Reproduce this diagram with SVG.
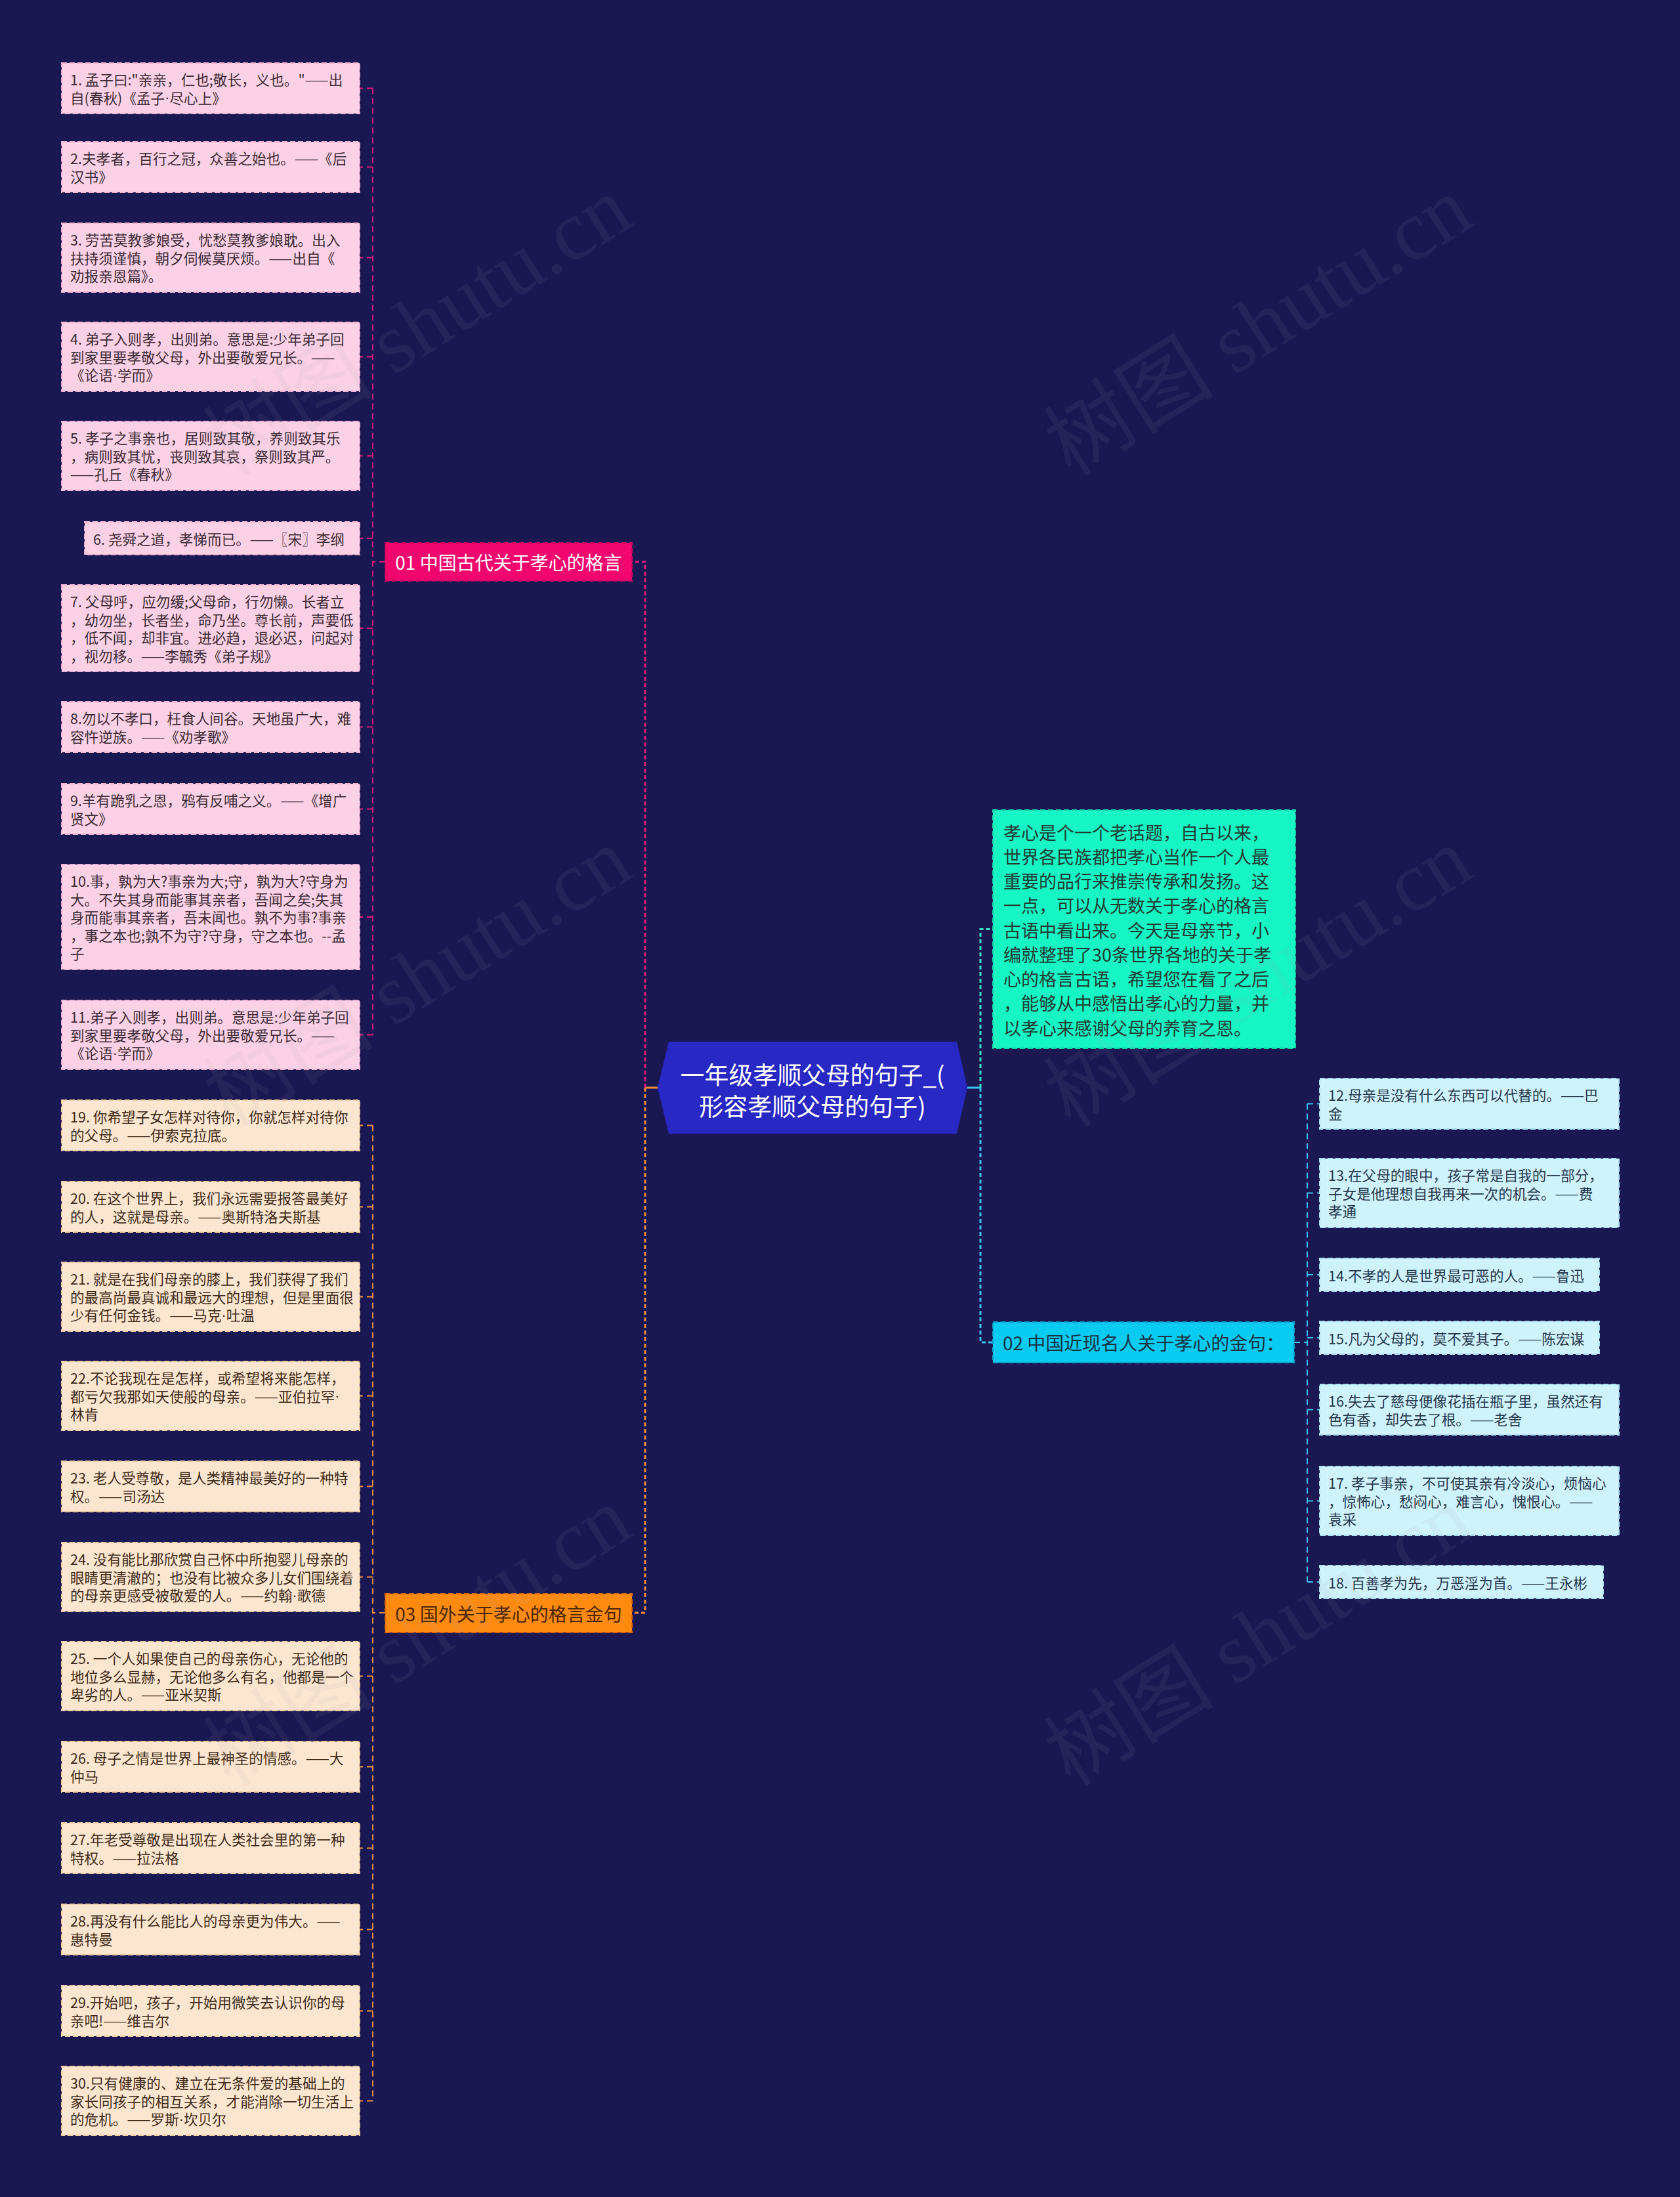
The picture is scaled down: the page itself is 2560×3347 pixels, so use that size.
<svg xmlns="http://www.w3.org/2000/svg" width="2560" height="3347" viewBox="0 0 2560 3347">
<style>
text{font-family:"Noto Sans CJK SC","Noto Sans",sans-serif;dominant-baseline:central}
.t{font-size:21.6px}
.d{font-family:"Liberation Sans",sans-serif}
.pk rect{fill:#fdd1e5;stroke:#f3b3d2;stroke-width:2;stroke-dasharray:8 4}
.pk text{fill:#3a2c36}
.og rect{fill:#fde6cf;stroke:#f2caa2;stroke-width:2;stroke-dasharray:8 4}
.og text{fill:#3e2c1a}
.cy rect{fill:#cff3fd;stroke:#a9dff0;stroke-width:2;stroke-dasharray:8 4}
.cy text{fill:#26384a}
.c1{stroke:#e2187e;fill:none}
.c3{stroke:#f0903a;fill:none}
.c2{stroke:#38c2ec;fill:none}
.c4{stroke:#38e3c8;fill:none}
.main{stroke-width:3;stroke-dasharray:6 4}
.sub{stroke-width:2;stroke-dasharray:9 6}
.wm{font-family:"Liberation Serif","Noto Sans CJK SC",serif;font-size:130px;fill:#9a9ab0;fill-opacity:0.09;dominant-baseline:auto}
</style>
<rect x="0" y="0" width="2560" height="3347" fill="#1a1852"/>

<g id="connectors">
  <line x1="1002" y1="1657" x2="983" y2="1657" stroke="#f0903a" stroke-width="3"/>
  <line x1="1474" y1="1657" x2="1494" y2="1657" stroke="#38c2ec" stroke-width="3"/>
  <path class="c1 main" d="M983 1657 V856 H963"/>
  <path class="c3 main" d="M983 1657 V2457 H963"/>
  <path class="c4 main" d="M1494 1657 V1415.5 H1513"/>
  <path class="c2 main" d="M1494 1657 V2045 H1513"/>
  <path class="c1 sub" d="M587 856 H568 M568 134.5 V1576.5 M568 134.5 H548 M568 254.5 H548 M568 392.5 H548 M568 543.5 H548 M568 694.5 H548 M568 820 H548 M568 957 H548 M568 1107.5 H548 M568 1232.5 H548 M568 1397 H548 M568 1576.5 H548"/>
  <path class="c3 sub" d="M587 2457 H568 M568 1714.5 V3200.5 M568 1714.5 H548 M568 1838.5 H548 M568 1975.5 H548 M568 2126.5 H548 M568 2264.5 H548 M568 2402.5 H548 M568 2553.5 H548 M568 2691.5 H548 M568 2815.5 H548 M568 2939.5 H548 M568 3063.5 H548 M568 3200.5 H548"/>
  <path class="c2 sub" d="M1972 2045 H1992 M1992 1681.5 V2410 M1992 1681.5 H2011 M1992 1817.5 H2011 M1992 1942 H2011 M1992 2038 H2011 M1992 2147.5 H2011 M1992 2286.5 H2011 M1992 2410 H2011"/>
</g>

<g id="root">
  <polygon points="1002,1657 1019,1587 1458,1587 1474,1657 1458,1727 1019,1727" fill="#2828c4"/>
  <text x="1238" y="1636" font-size="37" fill="#ffffff" text-anchor="middle">一年级孝顺父母的句子_(</text>
  <text x="1238" y="1684" font-size="37" fill="#ffffff" text-anchor="middle">形容孝顺父母的句子)</text>
</g>

<g id="branch01">
  <rect x="587" y="827" width="376" height="58" fill="#f0066e" stroke="#c8005a" stroke-width="2" stroke-dasharray="8 4"/>
  <text x="775" y="856" font-size="28" fill="#ffffff" text-anchor="middle">01 中国古代关于孝心的格言</text>
</g>
<g id="branch03">
  <rect x="587" y="2428" width="376" height="59" fill="#ff8a10" stroke="#d86a00" stroke-width="2" stroke-dasharray="8 4"/>
  <text x="775" y="2457.5" font-size="28" fill="#4a2606" text-anchor="middle">03 国外关于孝心的格言金句</text>
</g>
<g id="intro">
  <rect x="1513" y="1234" width="461" height="363" fill="#16f5c4" stroke="#0fcfa4" stroke-width="2" stroke-dasharray="8 4"/>
  <g font-size="27" fill="#1f3d34">
    <text x="1529" y="1267">孝心是个一个老话题，自古以来，</text>
    <text x="1529" y="1304.25">世界各民族都把孝心当作一个人最</text>
    <text x="1529" y="1341.5">重要的品行来推崇传承和发扬。这</text>
    <text x="1529" y="1378.75">一点，可以从无数关于孝心的格言</text>
    <text x="1529" y="1416">古语中看出来。今天是母亲节，小</text>
    <text x="1529" y="1453.25">编就整理了30条世界各地的关于孝</text>
    <text x="1529" y="1490.5">心的格言古语，希望您在看了之后</text>
    <text x="1529" y="1527.75">，能够从中感悟出孝心的力量，并</text>
    <text x="1529" y="1565">以孝心来感谢父母的养育之恩。</text>
  </g>
</g>
<g id="branch02">
  <rect x="1513" y="2014" width="459" height="62" fill="#08cbf2" stroke="#049ec4" stroke-width="2" stroke-dasharray="8 4"/>
  <text x="1528" y="2045" font-size="28" fill="#173044">02 中国近现名人关于孝心的金句：</text>
</g>

<g class="pk t">
  <g id="n1"><rect x="94" y="96" width="454" height="77"/><text x="107" y="120.75">1. 孟子曰:"亲亲，仁也;敬长，义也。"——出</text><text x="107" y="148.25">自(春秋)《孟子<tspan class="d">·</tspan>尽心上》</text></g>
  <g id="n2"><rect x="94" y="216" width="454" height="77"/><text x="107" y="240.75">2.夫孝者，百行之冠，众善之始也。——《后</text><text x="107" y="268.25">汉书》</text></g>
  <g id="n3"><rect x="94" y="340" width="454" height="105"/><text x="107" y="364.75">3. 劳苦莫教爹娘受，忧愁莫教爹娘耽。出入</text><text x="107" y="392.25">扶持须谨慎，朝夕伺候莫厌烦。——出自《</text><text x="107" y="419.75">劝报亲恩篇》。</text></g>
  <g id="n4"><rect x="94" y="491" width="454" height="105"/><text x="107" y="515.75">4. 弟子入则孝，出则弟。意思是:少年弟子回</text><text x="107" y="543.25">到家里要孝敬父母，外出要敬爱兄长。——</text><text x="107" y="570.75">《论语<tspan class="d">·</tspan>学而》</text></g>
  <g id="n5"><rect x="94" y="642" width="454" height="105"/><text x="107" y="666.75">5. 孝子之事亲也，居则致其敬，养则致其乐</text><text x="107" y="694.25">，病则致其忧，丧则致其哀，祭则致其严。</text><text x="107" y="721.75">——孔丘《春秋》</text></g>
  <g id="n6"><rect x="129" y="795" width="419" height="50"/><text x="142" y="820">6. 尧舜之道，孝悌而已。——〖宋〗李纲</text></g>
  <g id="n7"><rect x="94" y="891" width="454" height="132"/><text x="107" y="915.75">7. 父母呼，应勿缓;父母命，行勿懒。长者立</text><text x="107" y="943.25">，幼勿坐，长者坐，命乃坐。尊长前，声要低</text><text x="107" y="970.75">，低不闻，却非宜。进必趋，退必迟，问起对</text><text x="107" y="998.25">，视勿移。——李毓秀《弟子规》</text></g>
  <g id="n8"><rect x="94" y="1069" width="454" height="77"/><text x="107" y="1093.75">8.勿以不孝口，枉食人间谷。天地虽广大，难</text><text x="107" y="1121.25">容忤逆族。——《劝孝歌》</text></g>
  <g id="n9"><rect x="94" y="1194" width="454" height="77"/><text x="107" y="1218.75">9.羊有跪乳之恩，鸦有反哺之义。——《增广</text><text x="107" y="1246.25">贤文》</text></g>
  <g id="n10"><rect x="94" y="1317" width="454" height="160"/><text x="107" y="1341.75">10.事，孰为大?事亲为大;守，孰为大?守身为</text><text x="107" y="1369.25">大。不失其身而能事其亲者，吾闻之矣;失其</text><text x="107" y="1396.75">身而能事其亲者，吾未闻也。孰不为事?事亲</text><text x="107" y="1424.25">，事之本也;孰不为守?守身，守之本也。--孟</text><text x="107" y="1451.75">子</text></g>
  <g id="n11"><rect x="94" y="1524" width="454" height="105"/><text x="107" y="1548.75">11.弟子入则孝，出则弟。意思是:少年弟子回</text><text x="107" y="1576.25">到家里要孝敬父母，外出要敬爱兄长。——</text><text x="107" y="1603.75">《论语<tspan class="d">·</tspan>学而》</text></g>
</g>

<g class="og t">
  <g id="n19"><rect x="94" y="1676" width="454" height="77"/><text x="107" y="1700.75">19. 你希望子女怎样对待你，你就怎样对待你</text><text x="107" y="1728.25">的父母。——伊索克拉底。</text></g>
  <g id="n20"><rect x="94" y="1800" width="454" height="77"/><text x="107" y="1824.75">20. 在这个世界上，我们永远需要报答最美好</text><text x="107" y="1852.25">的人，这就是母亲。——奥斯特洛夫斯基</text></g>
  <g id="n21"><rect x="94" y="1923" width="454" height="105"/><text x="107" y="1947.75">21. 就是在我们母亲的膝上，我们获得了我们</text><text x="107" y="1975.25">的最高尚最真诚和最远大的理想，但是里面很</text><text x="107" y="2002.75">少有任何金钱。——马克<tspan class="d">·</tspan>吐温</text></g>
  <g id="n22"><rect x="94" y="2074" width="454" height="105"/><text x="107" y="2098.75">22.不论我现在是怎样，或希望将来能怎样，</text><text x="107" y="2126.25">都亏欠我那如天使般的母亲。——亚伯拉罕<tspan class="d">·</tspan></text><text x="107" y="2153.75">林肯</text></g>
  <g id="n23"><rect x="94" y="2226" width="454" height="77"/><text x="107" y="2250.75">23. 老人受尊敬，是人类精神最美好的一种特</text><text x="107" y="2278.25">权。——司汤达</text></g>
  <g id="n24"><rect x="94" y="2350" width="454" height="105"/><text x="107" y="2374.75">24. 没有能比那欣赏自己怀中所抱婴儿母亲的</text><text x="107" y="2402.25">眼睛更清澈的；也没有比被众多儿女们围绕着</text><text x="107" y="2429.75">的母亲更感受被敬爱的人。——约翰<tspan class="d">·</tspan>歌德</text></g>
  <g id="n25"><rect x="94" y="2501" width="454" height="105"/><text x="107" y="2525.75">25. 一个人如果使自己的母亲伤心，无论他的</text><text x="107" y="2553.25">地位多么显赫，无论他多么有名，他都是一个</text><text x="107" y="2580.75">卑劣的人。——亚米契斯</text></g>
  <g id="n26"><rect x="94" y="2653" width="454" height="77"/><text x="107" y="2677.75">26. 母子之情是世界上最神圣的情感。——大</text><text x="107" y="2705.25">仲马</text></g>
  <g id="n27"><rect x="94" y="2777" width="454" height="77"/><text x="107" y="2801.75">27.年老受尊敬是出现在人类社会里的第一种</text><text x="107" y="2829.25">特权。——拉法格</text></g>
  <g id="n28"><rect x="94" y="2901" width="454" height="77"/><text x="107" y="2925.75">28.再没有什么能比人的母亲更为伟大。——</text><text x="107" y="2953.25">惠特曼</text></g>
  <g id="n29"><rect x="94" y="3025" width="454" height="77"/><text x="107" y="3049.75">29.开始吧，孩子，开始用微笑去认识你的母</text><text x="107" y="3077.25">亲吧!——维吉尔</text></g>
  <g id="n30"><rect x="94" y="3148" width="454" height="105"/><text x="107" y="3172.75">30.只有健康的、建立在无条件爱的基础上的</text><text x="107" y="3200.25">家长同孩子的相互关系，才能消除一切生活上</text><text x="107" y="3227.75">的危机。——罗斯<tspan class="d">·</tspan>坎贝尔</text></g>
</g>

<g class="cy t">
  <g id="n12"><rect x="2011" y="1643" width="456" height="77"/><text x="2024" y="1667.75">12.母亲是没有什么东西可以代替的。——巴</text><text x="2024" y="1695.25">金</text></g>
  <g id="n13"><rect x="2011" y="1765" width="456" height="105"/><text x="2024" y="1789.75">13.在父母的眼中，孩子常是自我的一部分，</text><text x="2024" y="1817.25">子女是他理想自我再来一次的机会。——费</text><text x="2024" y="1844.75">孝通</text></g>
  <g id="n14"><rect x="2011" y="1917" width="426" height="50"/><text x="2024" y="1942">14.不孝的人是世界最可恶的人。——鲁迅</text></g>
  <g id="n15"><rect x="2011" y="2013" width="426" height="50"/><text x="2024" y="2038">15.凡为父母的，莫不爱其子。——陈宏谋</text></g>
  <g id="n16"><rect x="2011" y="2109" width="456" height="77"/><text x="2024" y="2133.75">16.失去了慈母便像花插在瓶子里，虽然还有</text><text x="2024" y="2161.25">色有香，却失去了根。——老舍</text></g>
  <g id="n17"><rect x="2011" y="2234" width="456" height="105"/><text x="2024" y="2258.75">17. 孝子事亲，不可使其亲有冷淡心，烦恼心</text><text x="2024" y="2286.25">，惊怖心，愁闷心，难言心，愧恨心。——</text><text x="2024" y="2313.75">袁采</text></g>
  <g id="n18"><rect x="2011" y="2385" width="432" height="50"/><text x="2024" y="2410">18. 百善孝为先，万恶淫为首。——王永彬</text></g>
</g>

<g id="watermark">
  <text class="wm" x="640" y="540" text-anchor="middle" transform="rotate(-32 640 502)">树图 shutu.cn</text>
  <text class="wm" x="1921" y="540" text-anchor="middle" transform="rotate(-32 1921 502)">树图 shutu.cn</text>
  <text class="wm" x="640" y="1532" text-anchor="middle" transform="rotate(-32 640 1494)">树图 shutu.cn</text>
  <text class="wm" x="1921" y="1532" text-anchor="middle" transform="rotate(-32 1921 1494)">树图 shutu.cn</text>
  <text class="wm" x="640" y="2536" text-anchor="middle" transform="rotate(-32 640 2498)">树图 shutu.cn</text>
  <text class="wm" x="1921" y="2536" text-anchor="middle" transform="rotate(-32 1921 2498)">树图 shutu.cn</text>
</g>
</svg>
